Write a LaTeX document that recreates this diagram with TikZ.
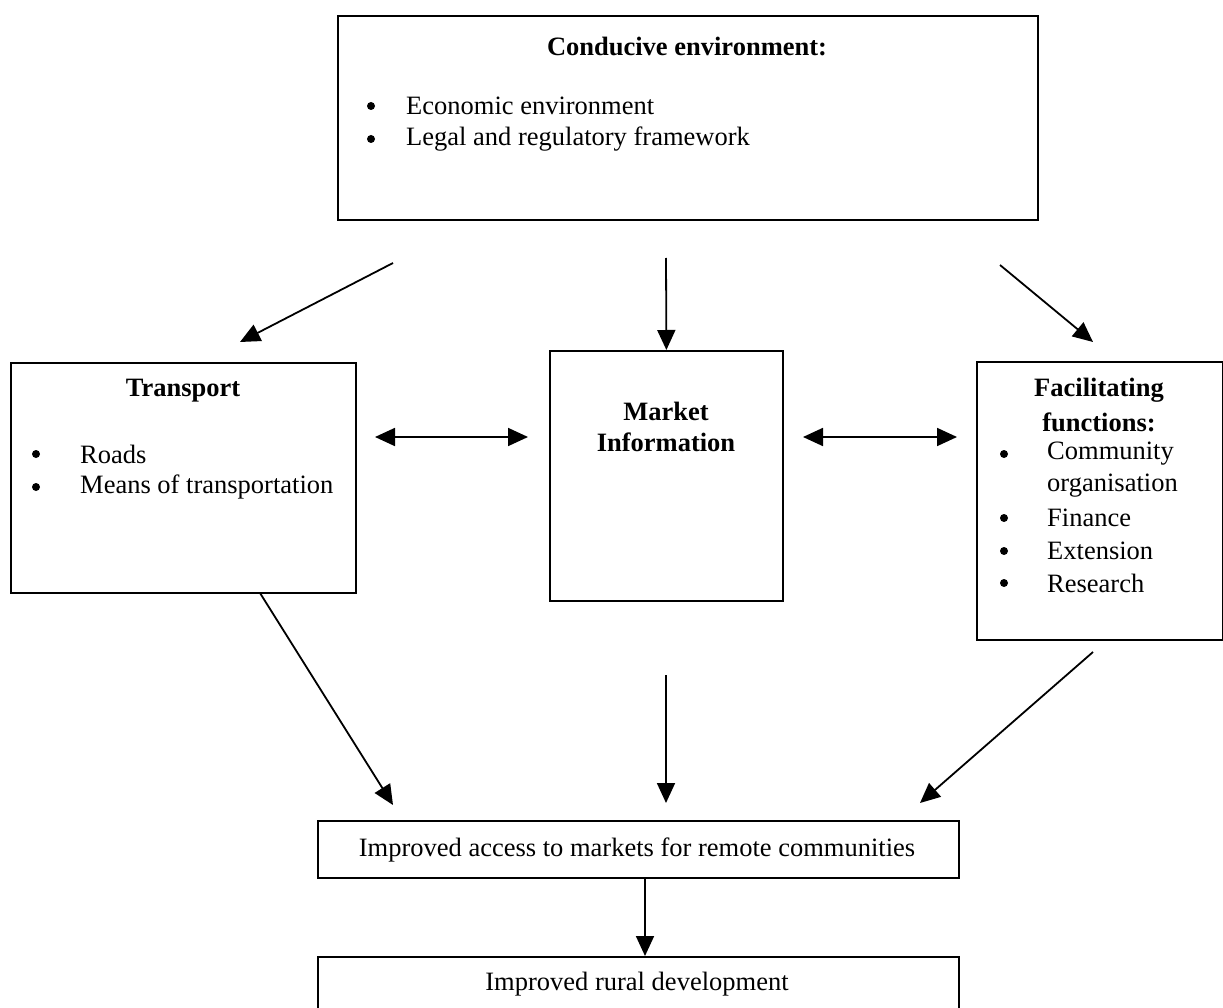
\documentclass[tikz,border=0pt]{standalone}
\usepackage{fontspec}
\setmainfont{Liberation Serif}
\usetikzlibrary{arrows.meta}
\begin{document}
\begin{tikzpicture}[x=1pt,y=-1pt,
  box/.style={draw, line width=1.8pt, anchor=north west, inner sep=0pt},
  txt/.style={inner sep=0pt, font=\fontsize{26.5}{30}\selectfont},
  btxt/.style={inner sep=0pt, font=\fontsize{26.5}{30}\selectfont\bfseries},
  bul/.style={circle, fill, inner sep=0pt, minimum size=8pt},
  arr/.style={line width=1.8pt, -{Triangle[length=20pt,width=18pt]}},
  darr/.style={line width=1.8pt, {Triangle[length=20pt,width=18pt]}-{Triangle[length=20pt,width=18pt]}}]
\useasboundingbox[fill=white] (0,0) rectangle (1223,1008);
% boxes
\node[box, minimum width=700pt, minimum height=204pt] (env) at (337,15) {};
\node[box, minimum width=345pt, minimum height=230pt] (trans) at (10,362) {};
\node[box, minimum width=233pt, minimum height=250pt] (mkt) at (549,350) {};
\node[box, minimum width=246pt, minimum height=278pt] (fac) at (976,361) {};
\node[box, minimum width=641pt, minimum height=57pt] (acc) at (317,820) {};
\node[box, minimum width=641pt, minimum height=90pt] (rur) at (317,956) {};
% texts
\node[btxt] (envt) at (687,46) {Conducive environment:};
\node[bul] (envb1) at (371,106) {};
\node[txt, anchor=west] (envi1) at (406,106) {Economic environment};
\node[bul] (envb2) at (371,139) {};
\node[txt, anchor=west] (envi2) at (406,139) {Legal and regulatory framework};
\node[btxt] (transt) at (183,391) {Transport};
\node[bul] (trb1) at (36,454) {};
\node[txt, anchor=west] (tri1) at (80,454) {Roads};
\node[bul] (trb2) at (36,487) {};
\node[txt, anchor=west] (tri2) at (80,487) {Means of transportation};
\node[btxt] (mktt1) at (666,411) {Market};
\node[btxt] (mktt2) at (666,442) {Information};
\node[btxt] (fact1) at (1099,390) {Facilitating};
\node[btxt] (fact2) at (1099,422) {functions:};
\node[bul] (fb1) at (1004,454) {};
\node[txt, anchor=west] (fi1) at (1047,454) {Community};
\node[txt, anchor=west] (fi1b) at (1047,486) {organisation};
\node[bul] (fb2) at (1004,518) {};
\node[txt, anchor=west] (fi2) at (1047,518) {Finance};
\node[bul] (fb3) at (1004,551) {};
\node[txt, anchor=west] (fi3) at (1047,551) {Extension};
\node[bul] (fb4) at (1004,583) {};
\node[txt, anchor=west] (fi4) at (1047,583) {Research};
\node[txt] (acct) at (637,850) {Improved access to markets for remote communities};
\node[txt] (rurt) at (637,984) {Improved rural development};
% arrow endpoints
\coordinate (a1s) at (393,263); \coordinate (a1e) at (240,342);
\coordinate (a2s) at (666,258);
\coordinate (a3s) at (1000,265); \coordinate (a3e) at (1093,342);
\coordinate (h1s) at (375,437); \coordinate (h1e) at (528,437);
\coordinate (h2s) at (803,437); \coordinate (h2e) at (957,437);
\coordinate (d1s) at (260,593); \coordinate (d1e) at (393,805);
\coordinate (d2s) at (666,675); \coordinate (d2e) at (666,803);
\coordinate (d3s) at (1093,652); \coordinate (d3e) at (920,803);
% arrows
\draw[arr] (a1s) -- (a1e);
\draw[arr] (a2s) -- (mkt.north);
\draw[arr] (a3s) -- (a3e);
\draw[darr] (h1s) -- (h1e);
\draw[darr] (h2s) -- (h2e);
\draw[arr] (d1s) -- (d1e);
\draw[arr] (d2s) -- (d2e);
\draw[arr] (d3s) -- (d3e);
\draw[arr] (acc.south -| 645,0) -- (rur.north -| 645,0);
\end{tikzpicture}
\end{document}
